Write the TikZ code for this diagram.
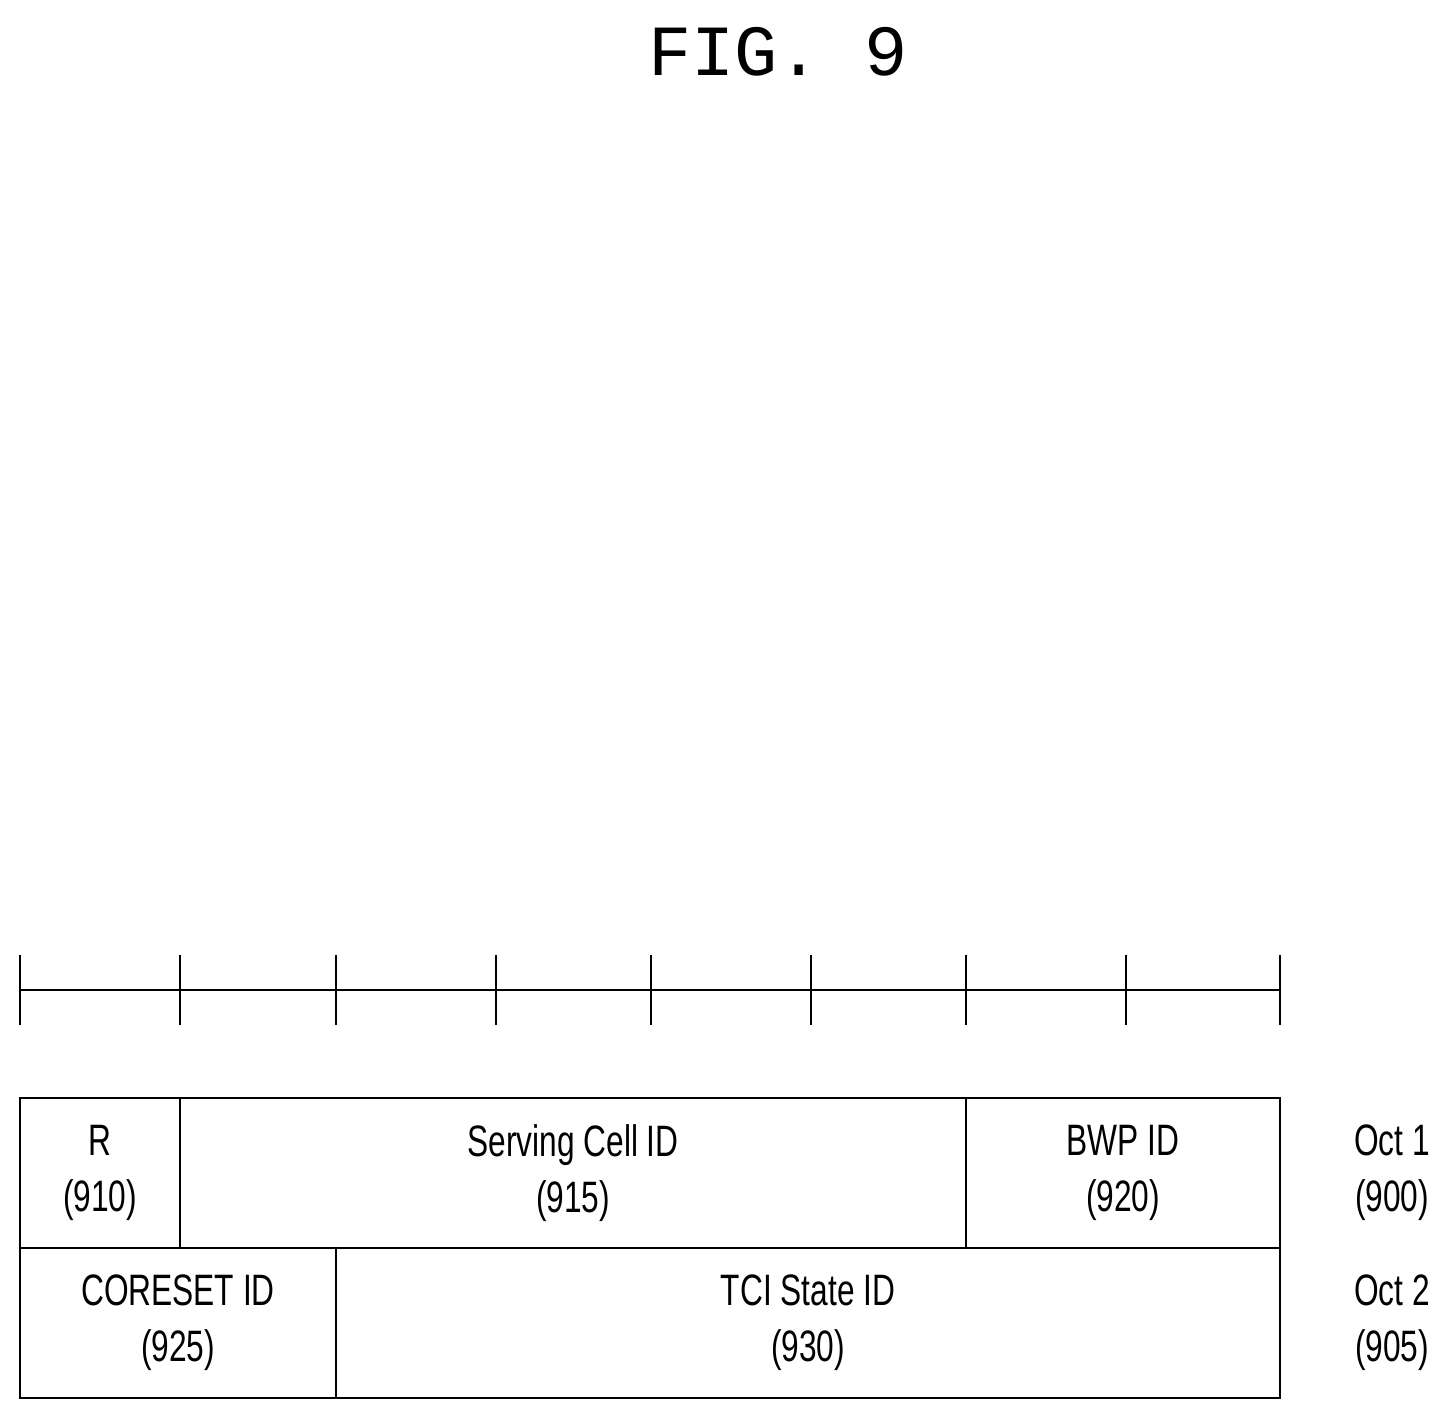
\documentclass[tikz,border=0pt]{standalone}
\usepackage{fontspec}
\setmainfont{Liberation Sans}
\newfontfamily\monof{Liberation Mono}
\begin{document}
\begin{tikzpicture}[x=1pt,y=-1pt,line width=2pt,
 lbl/.style={align=center,font=\fontsize{44}{56}\selectfont,xscale=0.72,inner sep=0pt}]
\useasboundingbox (0,0) rectangle (1454,1420);
\node[font=\monof\fontsize{72}{72}\selectfont,inner sep=0pt] (title) at (778,52) {FIG. 9};
\coordinate (rl) at (20,990); \coordinate (rr) at (1280,990);
\draw (rl) -- (rr);
\foreach \x in {20,180,336,496,651,811,966,1126,1280}
  \draw (\x,955) -- (\x,1025);
\draw (20,1098) rectangle (1280,1398);
\draw (20,1248) -- (1280,1248);
\draw (180,1098) -- (180,1248);
\draw (966,1098) -- (966,1248);
\draw (336,1248) -- (336,1398);
\node[lbl] (r) at (100,1173) {R\\(910)};
\node[lbl] (sc) at (573,1173) {Serving Cell ID\\(915)};
\node[lbl] (bwp) at (1123,1173) {BWP ID\\(920)};
\node[lbl] (cs) at (178,1323) {CORESET ID\\(925)};
\node[lbl] (tci) at (808,1323) {TCI State ID\\(930)};
\node[lbl] (o1) at (1392,1173) {Oct 1\\(900)};
\node[lbl] (o2) at (1392,1323) {Oct 2\\(905)};
\end{tikzpicture}
\end{document}
